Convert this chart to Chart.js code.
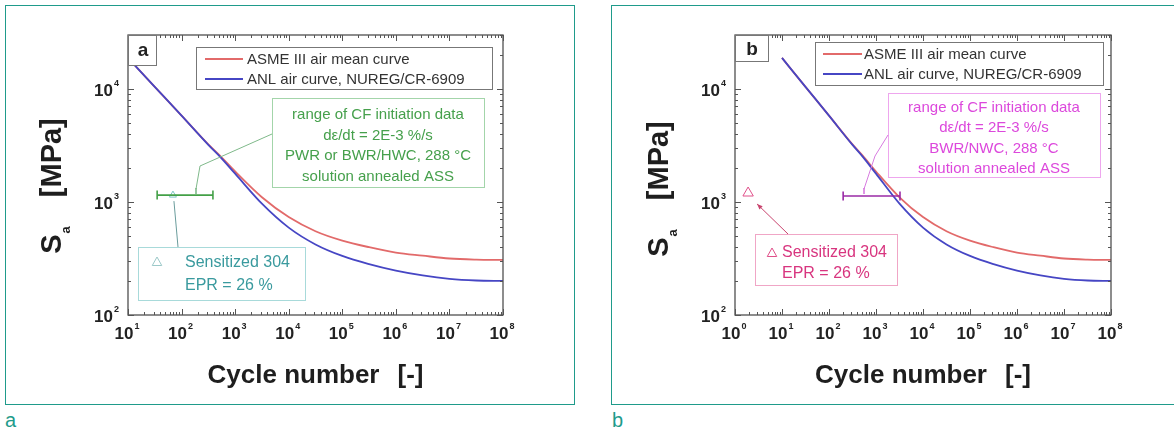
<!DOCTYPE html>
<html>
<head>
<meta charset="utf-8">
<script src="https://cdn.jsdelivr.net/npm/chart.js@4/dist/chart.umd.min.js"></script>
<style>
  html, body { margin: 0; padding: 0; background: #fff; width: 1174px; height: 436px; overflow: hidden; }
  .panel { position: absolute; border: 1.5px solid #1f9b8b; box-sizing: border-box; }
  .tag { position: absolute; font-family: "Liberation Sans Narrow", "Liberation Sans", sans-serif; color: #1f9b8b; font-size: 20px; line-height: 1; }
  canvas { position: absolute; top: 0; }
</style>
</head>
<body>
<div class="panel" style="left:5px;top:5px;width:570px;height:400px"></div>
<div class="panel" style="left:611px;top:5px;width:600px;height:400px"></div>
<div class="tag" style="left:5px;top:410px">a</div>
<div class="tag" style="left:612px;top:410px">b</div>
<canvas id="chartA" width="590" height="436" style="left:0"></canvas>
<canvas id="chartB" width="584" height="436" style="left:590px"></canvas>
<script>
// Fatigue curves in air, stress amplitude Sa [MPa] against cycles N
const cycles      = [10, 31.6, 100, 316, 520, 1000, 3162, 1e4, 31620, 1e5, 316200, 1e6, 3162000, 1e7, 31620000, 1e8];
const asmeMeanSa  = [18800, 10440, 5810, 3230, 2570, 1860, 1100, 735, 551, 455, 398, 357, 335, 316, 309, 307];
const anlAirSa    = [18800, 10440, 5800, 3200, 2520, 1780, 966, 593, 421, 333, 282, 247, 224, 209, 202, 200];

// Tick decades
const xExponentsA = [1, 2, 3, 4, 5, 6, 7, 8];
const xExponentsB = [0, 1, 2, 3, 4, 5, 6, 7, 8];
const yExponents  = [2, 3, 4];
const yMaxSa      = 30000;

// Corrosion-fatigue initiation range (N from..to, Sa level) and sensitized 304 point (N, Sa)
const cfRangeA     = [35, 385];
const cfLevelA     = 1150;
const sensitizedA  = [69, 1150];
const cfRangeB     = [200, 3240];
const cfLevelB     = 1130;
const sensitizedB  = [1.9, 1200];

// Texts
const seriesLabels = ['ASME III air mean curve', 'ANL air curve, NUREG/CR-6909'];
const cfNoteA   = ['range of CF initiation data', 'dε/dt = 2E-3 %/s', 'PWR or BWR/HWC, 288 °C', 'solution annealed ASS'];
const cfNoteB   = ['range of CF initiation data', 'dε/dt = 2E-3 %/s', 'BWR/NWC, 288 °C', 'solution annealed ASS'];
const sensNote  = ['Sensitized 304', 'EPR = 26 %'];
const xTitle    = ['Cycle number', '[-]'];
const yTitle    = ['S', 'a', '[MPa]'];

const SANS = '"Liberation Sans", Arial, Helvetica, sans-serif';
const RED = '#e26a6a';
const BLUE = '#4646c4';

function pts(xs, ys) { return xs.map((x, i) => ({ x: x, y: ys[i] })); }

function line(ctx, p, color, w) {
  ctx.beginPath();
  ctx.moveTo(p[0][0], p[0][1]);
  for (let i = 1; i < p.length; i++) ctx.lineTo(p[i][0], p[i][1]);
  ctx.strokeStyle = color; ctx.lineWidth = w; ctx.stroke();
}

function triangle(ctx, cx, cy, r, color, w) {
  ctx.beginPath();
  ctx.moveTo(cx, cy - r);
  ctx.lineTo(cx + r * 0.95, cy + r * 0.7);
  ctx.lineTo(cx - r * 0.95, cy + r * 0.7);
  ctx.closePath();
  ctx.strokeStyle = color; ctx.lineWidth = w; ctx.stroke();
}

function power(ctx, exp, x, y, align) {
  ctx.font = 'bold 17px ' + SANS;
  const wb = ctx.measureText('10').width;
  ctx.font = 'bold 9px ' + SANS;
  const we = ctx.measureText(String(exp)).width;
  const total = wb + 1 + we;
  let x0 = align === 'center' ? x - total / 2 : x - total;
  ctx.fillStyle = '#222';
  ctx.textAlign = 'left'; ctx.textBaseline = 'middle';
  ctx.font = 'bold 17px ' + SANS;
  ctx.fillText('10', x0, y);
  ctx.font = 'bold 9px ' + SANS;
  ctx.fillText(String(exp), x0 + wb + 1, y - 7);
}

const frameAndLabels = {
  id: 'frameAndLabels',
  afterDatasetsDraw(chart, args, o) {
    const ctx = chart.ctx;
    const { left, right, top, bottom } = chart.chartArea;
    const xs = chart.scales.x, ys = chart.scales.y;
    ctx.save();

    // frame
    ctx.strokeStyle = '#505050'; ctx.lineWidth = 1.3;
    ctx.strokeRect(left, top, right - left, bottom - top);

    // inward ticks, major at decades, minor at 2..9
    const xe = o.xExponents;
    for (let e = xe[0]; e <= xe[xe.length - 1]; e++) {
      for (let m = 1; m < 10; m++) {
        const v = m * Math.pow(10, e);
        if (v > xs.max * 1.0001) continue;
        const px = Math.round(xs.getPixelForValue(v)) + 0.5;
        const len = m === 1 ? 6 : 3;
        line(ctx, [[px, bottom], [px, bottom - len]], '#555', 1);
        line(ctx, [[px, top], [px, top + len]], '#555', 1);
      }
    }
    for (let e = yExponents[0]; e <= 4; e++) {
      for (let m = 1; m < 10; m++) {
        const v = m * Math.pow(10, e);
        if (v > ys.max * 1.0001) continue;
        const py = Math.round(ys.getPixelForValue(v)) + 0.5;
        const len = m === 1 ? 6 : 3;
        line(ctx, [[left, py], [left + len, py]], '#555', 1);
        line(ctx, [[right, py], [right - len, py]], '#555', 1);
      }
    }

    // tick labels
    xe.forEach(e => power(ctx, e, xs.getPixelForValue(Math.pow(10, e)) - 1, bottom + 19, 'center'));
    yExponents.forEach(e => power(ctx, e, left - 9, ys.getPixelForValue(Math.pow(10, e)) + 2, 'right'));

    // x axis title
    ctx.fillStyle = '#1e1e1e';
    ctx.font = 'bold 26px ' + SANS;
    ctx.textBaseline = 'middle'; ctx.textAlign = 'left';
    const gap = 18;
    const w1 = ctx.measureText(xTitle[0]).width, w2 = ctx.measureText(xTitle[1]).width;
    const cx = (left + right) / 2, x0 = cx - (w1 + gap + w2) / 2;
    ctx.fillText(xTitle[0], x0, bottom + 61);
    ctx.fillText(xTitle[1], x0 + w1 + gap, bottom + 61);

    // y axis title, rotated
    ctx.save();
    ctx.translate(left - 75, o.yTitleMid);
    ctx.rotate(-Math.PI / 2);
    ctx.font = 'bold 29px ' + SANS;
    const ws = ctx.measureText(yTitle[0]).width;
    const wm = ctx.measureText(yTitle[2]).width;
    ctx.font = 'bold 13px ' + SANS;
    const wa = ctx.measureText(yTitle[1]).width;
    const ygap = 30;
    const tot = ws + wa + ygap + wm;
    let u = -tot / 2;
    ctx.font = 'bold 29px ' + SANS;
    ctx.fillText(yTitle[0], u, 0);
    ctx.font = 'bold 13px ' + SANS;
    ctx.fillText(yTitle[1], u + ws + 1, 13);
    ctx.font = 'bold 29px ' + SANS;
    ctx.fillText(yTitle[2], u + ws + wa + ygap, 0);
    ctx.restore();

    // notes drawn in page coordinates
    ctx.translate(-o.offset, 0);
    const n = o.notes;

    // panel letter box
    ctx.fillStyle = '#fff';
    ctx.fillRect(n.tagBox[0], n.tagBox[1], n.tagBox[2], n.tagBox[3]);
    ctx.strokeStyle = '#777'; ctx.lineWidth = 1;
    ctx.strokeRect(n.tagBox[0] + 0.5, n.tagBox[1] + 0.5, n.tagBox[2], n.tagBox[3]);
    ctx.fillStyle = '#222'; ctx.font = 'bold 19px ' + SANS;
    ctx.textAlign = 'center'; ctx.textBaseline = 'middle';
    ctx.fillText(o.tag, n.tagText[0], n.tagText[1]);

    // legend
    const lb = n.legendBox;
    ctx.fillStyle = '#fff'; ctx.fillRect(lb[0], lb[1], lb[2], lb[3]);
    ctx.strokeStyle = '#777'; ctx.strokeRect(lb[0] + 0.5, lb[1] + 0.5, lb[2], lb[3]);
    [0, 1].forEach((di, r) => {
      const ds = chart.data.datasets[di];
      const yy = lb[1] + 12 + r * 20;
      line(ctx, [[lb[0] + n.legLine[0], yy], [lb[0] + n.legLine[1], yy]], ds.borderColor, 1.8);
      ctx.fillStyle = '#333'; ctx.font = '15px ' + SANS;
      ctx.textAlign = 'left';
      ctx.fillText(ds.label, lb[0] + n.legText, yy + 1);
    });

    // CF range note
    const cf = n.cf;
    ctx.fillStyle = '#fff'; ctx.fillRect(cf.rect[0], cf.rect[1], cf.rect[2], cf.rect[3]);
    ctx.strokeStyle = cf.border; ctx.lineWidth = 1;
    ctx.strokeRect(cf.rect[0] + 0.5, cf.rect[1] + 0.5, cf.rect[2], cf.rect[3]);
    ctx.fillStyle = cf.color; ctx.font = '15px ' + SANS; ctx.textAlign = 'center';
    o.cfLines.forEach((t, i) => ctx.fillText(t, cf.cx, cf.y0 + i * cf.dy));
    line(ctx, cf.leader, cf.leaderColor, 1);
    const lt = cf.leader[cf.leader.length - 1];
    line(ctx, [[lt[0], lt[1] - 1], [lt[0], lt[1] + 5]], cf.leaderColor, 1.6);

    // sensitized note
    const sn = n.sens;
    ctx.fillStyle = '#fff'; ctx.fillRect(sn.rect[0], sn.rect[1], sn.rect[2], sn.rect[3]);
    ctx.strokeStyle = sn.border; ctx.lineWidth = 1;
    ctx.strokeRect(sn.rect[0] + 0.5, sn.rect[1] + 0.5, sn.rect[2], sn.rect[3]);
    triangle(ctx, sn.tri[0], sn.tri[1], 5, sn.triColor, 1);
    ctx.fillStyle = sn.color; ctx.font = '16px ' + SANS; ctx.textAlign = 'left';
    sensNote.forEach((t, i) => ctx.fillText(t, sn.tx, sn.ys[i]));

    // leader from the note to the sensitized point
    const mk = chart.getDatasetMeta(3).data[0];
    const tip = [mk.x + o.offset + sn.tipOff[0], mk.y + sn.tipOff[1]];
    line(ctx, [sn.from, tip], sn.leaderColor, 1);
    if (sn.arrow) {
      const a = Math.atan2(tip[1] - sn.from[1], tip[0] - sn.from[0]);
      ctx.beginPath();
      ctx.moveTo(tip[0], tip[1]);
      ctx.lineTo(tip[0] - 6 * Math.cos(a - 0.4), tip[1] - 6 * Math.sin(a - 0.4));
      ctx.lineTo(tip[0] - 6 * Math.cos(a + 0.4), tip[1] - 6 * Math.sin(a + 0.4));
      ctx.closePath(); ctx.fillStyle = sn.leaderColor; ctx.fill();
    }
    ctx.restore();
  }
};

function makeChart(id, cfg) {
  const area = cfg.area;
  const canvas = document.getElementById(id);
  return new Chart(canvas, {
    type: 'line',
    data: {
      datasets: [
        { label: seriesLabels[0], data: pts(cycles, asmeMeanSa), borderColor: RED, borderWidth: 1.8,
          pointRadius: 0, cubicInterpolationMode: 'monotone', order: 2 },
        { label: seriesLabels[1], data: pts(cycles, anlAirSa), borderColor: BLUE, borderWidth: 1.8,
          pointRadius: 0, cubicInterpolationMode: 'monotone', order: 1 },
        { label: 'CF range', data: pts(cfg.range, [cfg.level, cfg.level]), borderColor: cfg.barColor,
          borderWidth: 1.6, pointStyle: 'line', rotation: 90, pointRadius: 4.5,
          pointBorderColor: cfg.barColor, pointBorderWidth: 1.6, order: 0 },
        { label: 'Sensitized 304', data: [{ x: cfg.sens[0], y: cfg.sens[1] }], showLine: false,
          pointStyle: 'triangle', pointRadius: cfg.triSize, pointBackgroundColor: 'rgba(0,0,0,0)',
          pointBorderColor: cfg.triColor, pointBorderWidth: 1, order: 0 }
      ]
    },
    options: {
      responsive: false,
      animation: false,
      events: [],
      layout: { padding: { left: area[0] - cfg.offset, top: area[1],
                           right: canvas.width - (area[2] - cfg.offset), bottom: 436 - area[3] } },
      scales: {
        x: { type: 'logarithmic', min: cfg.xMin, max: 1e8, display: false },
        y: { type: 'logarithmic', min: 100, max: yMaxSa, display: false }
      },
      plugins: {
        legend: { display: false },
        tooltip: { enabled: false },
        frameAndLabels: {
          offset: cfg.offset, xExponents: cfg.xExp, tag: cfg.tag, notes: cfg.notes,
          cfLines: cfg.cfLines, yTitleMid: cfg.yTitleMid
        }
      }
    },
    plugins: [frameAndLabels]
  });
}

makeChart('chartA', {
  offset: 0, area: [128, 35, 503, 315], xMin: 10, xExp: xExponentsA, tag: 'a', yTitleMid: 186,
  range: cfRangeA, level: cfLevelA, sens: sensitizedA, barColor: '#43a047', triColor: '#7cc4c4', triSize: 4,
  cfLines: cfNoteA,
  notes: {
    tagBox: [128, 35, 28, 30], tagText: [143, 51],
    legendBox: [196, 47, 296, 42], legLine: [9, 47], legText: 51,
    cf: { rect: [272, 98, 212, 89], color: '#46a04c', border: '#a3d5aa', cx: 378, y0: 115, dy: 20.5,
          leader: [[272, 134], [200, 166], [196, 189]], leaderColor: '#7fb98a' },
    sens: { rect: [138, 247, 167, 53], color: '#3a9a9e', border: '#a8dada', tri: [157, 262], triColor: '#9cc9c9',
            tx: 185, ys: [263, 286], from: [178, 247], tipOff: [1, 6], leaderColor: '#6a9c9c', arrow: false }
  }
});

makeChart('chartB', {
  offset: 590, area: [735, 35, 1111, 315], xMin: 1, xExp: xExponentsB, tag: 'b', yTitleMid: 189,
  range: cfRangeB, level: cfLevelB, sens: sensitizedB, barColor: '#9a2aa6', triColor: '#e0508a', triSize: 6,
  cfLines: cfNoteB,
  notes: {
    tagBox: [735, 35, 33, 26], tagText: [752, 50],
    legendBox: [815, 42, 288, 43], legLine: [8, 47], legText: 49,
    cf: { rect: [888, 93, 212, 84], color: '#dc48dc', border: '#eea6ee', cx: 994, y0: 108, dy: 20.3,
          leader: [[888, 135], [875, 156], [864, 189]], leaderColor: '#d77ce0' },
    sens: { rect: [755, 234, 142, 51], color: '#d8357f', border: '#f0a6c6', tri: [772, 253], triColor: '#e0508a',
            tx: 782, ys: [253, 274], from: [788, 234], tipOff: [9, 11], leaderColor: '#c8446e', arrow: true }
  }
});
</script>
</body>
</html>
